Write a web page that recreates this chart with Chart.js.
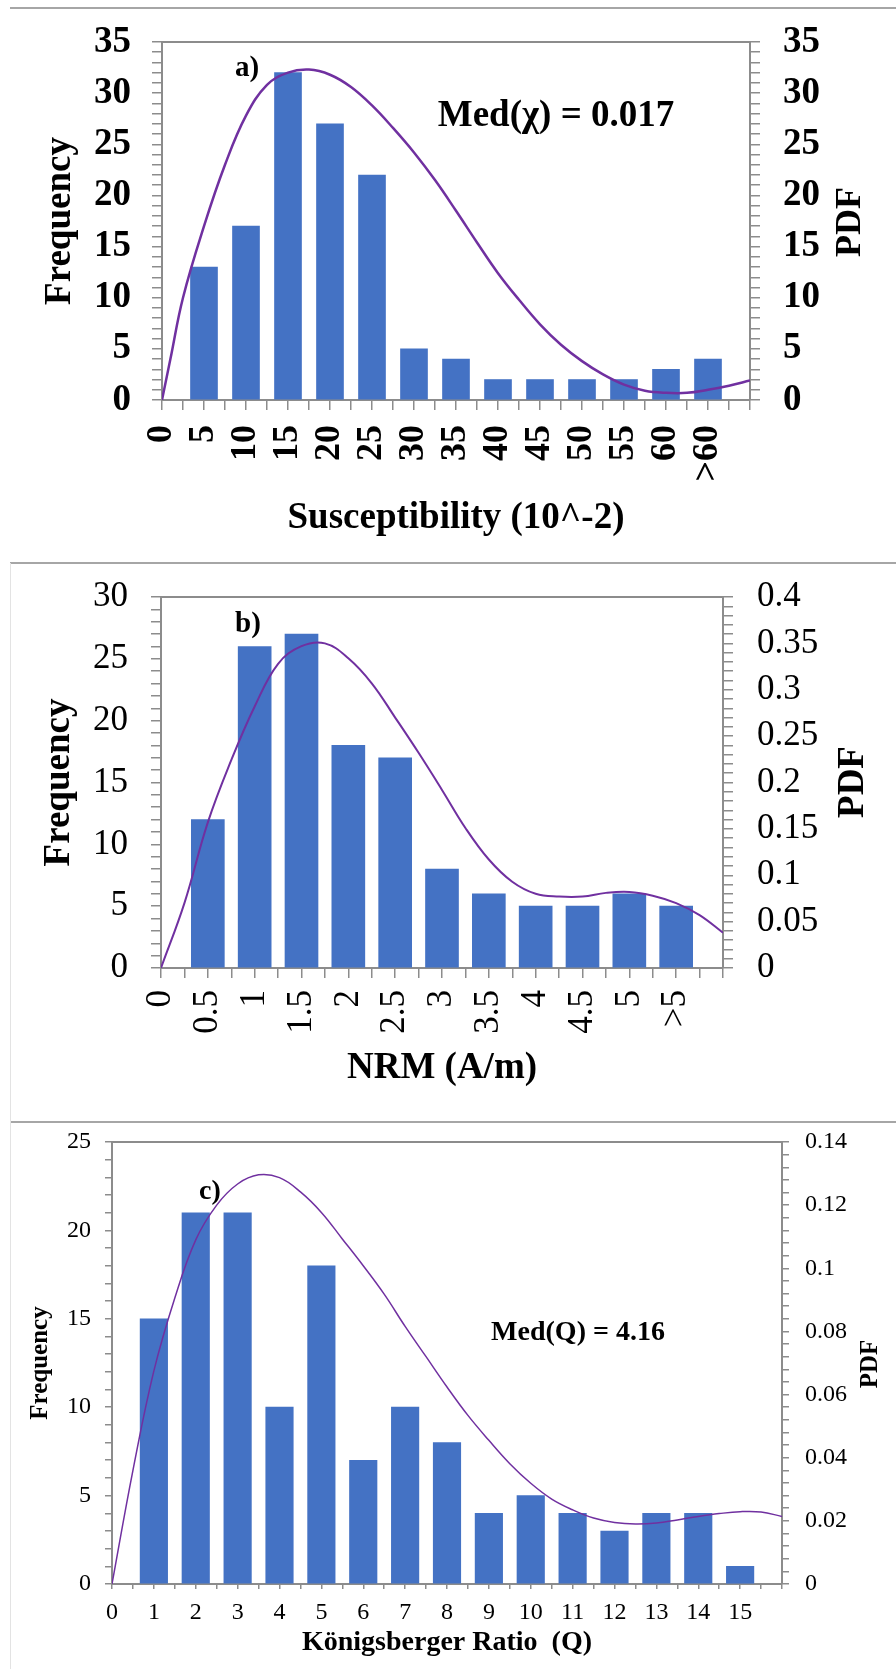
<!DOCTYPE html>
<html>
<head>
<meta charset="utf-8">
<title>Susceptibility, NRM and Q histograms</title>
<script src="https://cdn.jsdelivr.net/npm/chart.js@4.4.1/dist/chart.umd.min.js"></script>
<style>
  html, body { margin: 0; padding: 0; background: #fff; }
  body { width: 896px; height: 1669px; position: relative; overflow: hidden; }
  canvas { position: absolute; left: 0; }
  .rule { position: absolute; left: 10px; right: 0; height: 2px; background: #a6a6a6; }
  .side { position: absolute; left: 10px; width: 1px; background: #e3e3e3; }
</style>
</head>
<body>
<div class="rule" style="top:7px"></div>
<div class="rule" style="top:562px"></div>
<div class="rule" style="top:1121px"></div>
<div class="side" style="top:563px;height:1106px"></div>
<canvas id="chartA" style="top:10px" width="896" height="548"></canvas>
<canvas id="chartB" style="top:565px" width="896" height="555"></canvas>
<canvas id="chartC" style="top:1124px" width="896" height="545"></canvas>
<script>
// a) Susceptibility
const suscBins    = [5, 10, 15, 20, 25, 30, 35, 40, 45, 50, 55, 60, 65];
const suscFreq    = [13, 17, 32, 27, 22, 5, 4, 2, 2, 2, 2, 3, 4];
const suscXLabels = ["0", "5", "10", "15", "20", "25", "30", "35", "40", "45", "50", "55", "60", ">60"];
const suscYLabels = ["0", "5", "10", "15", "20", "25", "30", "35"];
const suscPdfX    = [0, 1, 2.5, 5, 7.5, 10, 12.5, 15, 17.5, 20, 22.5, 25, 27.5, 30, 32.5,
                     35, 37.5, 40, 42.5, 45, 47.5, 50, 52.5, 55, 57.5, 60, 62.5, 65, 67.5, 70];
const suscPdfY    = [0, 4, 10, 17, 23, 27.8, 30.8, 32, 32.3, 31.8, 30.6, 28.8, 26.6, 24.2, 21.5,
                     18.5, 15.4, 12.4, 9.8, 7.4, 5.4, 3.8, 2.5, 1.5, 0.9, 0.7, 0.7, 1.0, 1.4, 1.9];

// b) NRM
const nrmBins     = [0.5, 1, 1.5, 2, 2.5, 3, 3.5, 4, 4.5, 5, 5.5];
const nrmFreq     = [12, 26, 27, 18, 17, 8, 6, 5, 5, 6, 5];
const nrmXLabels  = ["0", "0.5", "1", "1.5", "2", "2.5", "3", "3.5", "4", "4.5", "5", ">5"];
const nrmYLabels  = ["0", "5", "10", "15", "20", "25", "30"];
const nrmPdfLabels = ["0", "0.05", "0.1", "0.15", "0.2", "0.25", "0.3", "0.35", "0.4"];
const nrmPdfX     = [0, 0.25, 0.5, 0.75, 1, 1.25, 1.5, 1.75, 2, 2.25, 2.5, 2.75, 3,
                     3.25, 3.5, 3.75, 4, 4.25, 4.5, 4.75, 5, 5.25, 5.5, 5.75, 6];
const nrmPdfY     = [0, 0.07, 0.157, 0.224, 0.282, 0.328, 0.347, 0.350, 0.334, 0.307, 0.270, 0.232, 0.192,
                     0.151, 0.117, 0.093, 0.080, 0.077, 0.077, 0.081, 0.082, 0.078, 0.070, 0.057, 0.038];

// c) Koenigsberger ratio
const qBins       = [1, 2, 3, 4, 5, 6, 7, 8, 9, 10, 11, 12, 13, 14, 15];
const qFreq       = [15, 21, 21, 10, 18, 7, 10, 8, 4, 5, 4, 3, 4, 4, 1];
const qXLabels    = ["0", "1", "2", "3", "4", "5", "6", "7", "8", "9", "10", "11", "12", "13", "14", "15"];
const qYLabels    = ["0", "5", "10", "15", "20", "25"];
const qPdfLabels  = ["0", "0.02", "0.04", "0.06", "0.08", "0.1", "0.12", "0.14"];
const qPdfX       = [0, 0.5, 1, 1.5, 2, 2.5, 3, 3.5, 4, 4.5, 5, 5.5, 6, 6.5, 7, 7.5, 8,
                     8.5, 9, 9.5, 10, 10.5, 11, 11.5, 12, 12.5, 13, 13.5, 14, 14.5, 15, 15.5, 16];
const qPdfY       = [0, 0.036, 0.0675, 0.0906, 0.109, 0.120, 0.1267, 0.1296, 0.1287, 0.1242, 0.1177,
                     0.1093, 0.1008, 0.0918, 0.0816, 0.072, 0.0624, 0.0534, 0.0455, 0.0381, 0.0319,
                     0.0269, 0.0235, 0.0209, 0.0195, 0.019, 0.0193, 0.0203, 0.0214, 0.0223, 0.0229,
                     0.0228, 0.0214];

const SERIF = "'Liberation Serif', 'Times New Roman', serif";
const GREY  = "#8c8c8c";
const BAR   = "#4472c4";
const CURVE = "#7030a0";

// label only where the tick falls on a labelled step, keep the tick mark otherwise
function labelAt(labels, value, step) {
  const r = value / step;
  const i = Math.round(r);
  return Math.abs(r - i) < 1e-6 && i < labels.length ? labels[i] : "";
}

// top edge of the plot box + free text (panel letter, median, PDF title)
const framePlugin = {
  id: "frame",
  afterDraw(chart, args, opts) {
    const { ctx, chartArea: a } = chart;
    ctx.save();
    ctx.strokeStyle = GREY;
    ctx.lineWidth = 2;
    ctx.beginPath();
    ctx.moveTo(a.left, a.top);
    ctx.lineTo(a.right, a.top);
    ctx.stroke();
    ctx.fillStyle = "#000";
    ctx.textAlign = "center";
    ctx.textBaseline = "middle";
    (opts.notes || []).forEach((n) => {
      ctx.save();
      ctx.font = `bold ${n.size}px ${SERIF}`;
      ctx.translate(n.x, n.y);
      if (n.rotate) ctx.rotate(-Math.PI / 2);
      ctx.fillText(n.text, 0, 0);
      ctx.restore();
    });
    ctx.restore();
  },
};

function axisFont(size, bold) {
  return { family: SERIF, size, weight: bold ? "bold" : "normal" };
}

// fixed box sizes so the plot area lands where the original has it
function fixWidth(w) {
  return (s) => { s.width = w; s.paddingTop = 0; s.paddingBottom = 0; };
}

function buildConfig(p) {
  return {
    type: "bar",
    data: {
      datasets: [
        {
          type: "line",
          data: p.pdfX.map((x, i) => ({ x, y: p.pdfY[i] })),
          yAxisID: "y2",
          borderColor: CURVE,
          borderWidth: p.curveWidth,
          pointRadius: 0,
          tension: 0.4,
          fill: false,
          order: 0,
        },
        {
          type: "bar",
          data: p.bins.map((x, i) => ({ x, y: p.freq[i] })),
          yAxisID: "y",
          backgroundColor: BAR,
          borderWidth: 0,
          barThickness: p.barWidth,
          order: 1,
        },
      ],
    },
    options: {
      responsive: false,
      animation: false,
      layout: { padding: { top: p.padTop, left: 0, right: 0, bottom: 0 } },
      plugins: {
        legend: { display: false },
        tooltip: { enabled: false },
        frame: { notes: p.notes },
      },
      scales: {
        x: {
          type: "linear",
          min: p.xMin, max: p.xMax,
          offset: false,
          grid: { offset: false, drawOnChartArea: false, tickLength: p.xTick, color: GREY, lineWidth: 1.5 },
          border: { color: GREY, width: 2 },
          ticks: {
            stepSize: p.xMinor,
            autoSkip: false,
            minRotation: p.xRotation, maxRotation: p.xRotation,
            padding: p.xPad,
            color: "#000",
            font: axisFont(p.xFont, p.boldTicks),
            callback: (v) => labelAt(p.xLabels, v, p.xMajor),
          },
          title: {
            display: true, text: p.xTitle, color: "#000",
            font: axisFont(p.xTitleFont, true),
            padding: { top: 0, bottom: p.xTitlePad },
          },
          afterFit: (s) => { s.height = p.xHeight; s.paddingLeft = 0; s.paddingRight = 0; },
        },
        y: {
          position: "left",
          min: 0, max: p.yMax,
          grid: { drawOnChartArea: false, tickLength: p.yTick, color: GREY, lineWidth: 1.5 },
          border: { color: GREY, width: 2 },
          ticks: {
            stepSize: p.yMinor,
            autoSkip: false,
            padding: p.yPad,
            color: "#000",
            font: axisFont(p.yFont, p.boldTicks),
            callback: (v) => labelAt(p.yLabels, v, p.yMajor),
          },
          title: {
            display: true, text: "Frequency", color: "#000",
            font: axisFont(p.yTitleFont, true),
            padding: { top: p.yTitlePad, bottom: 0 },
          },
          afterFit: fixWidth(p.leftWidth),
        },
        y2: {
          position: "right",
          min: 0, max: p.y2Max,
          grid: { drawOnChartArea: false, tickLength: p.yTick, color: GREY, lineWidth: 1.5 },
          border: { color: GREY, width: 2 },
          ticks: {
            stepSize: p.y2Minor,
            autoSkip: false,
            padding: p.y2Pad,
            color: "#000",
            font: axisFont(p.yFont, p.boldTicks),
            callback: (v) => labelAt(p.y2Labels, v, p.y2Major),
          },
          afterFit: fixWidth(p.rightWidth),
        },
      },
    },
    plugins: [framePlugin],
  };
}

new Chart(document.getElementById("chartA"), buildConfig({
  bins: suscBins, freq: suscFreq, pdfX: suscPdfX, pdfY: suscPdfY,
  xLabels: suscXLabels, yLabels: suscYLabels, y2Labels: suscYLabels,
  xMin: 0, xMax: 70, xMajor: 5, xMinor: 2.5,
  yMax: 35, yMajor: 5, yMinor: 1,
  y2Max: 35, y2Major: 5, y2Minor: 1,
  xTitle: "Susceptibility (10^-2)",
  boldTicks: true, xFont: 36, yFont: 37, xTitleFont: 37, yTitleFont: 37,
  xRotation: 90, xPad: 15, xTick: 10, yTick: 10, yPad: 21, y2Pad: 23,
  xTitlePad: 17, yTitlePad: 38,
  padTop: 32, leftWidth: 162, rightWidth: 146, xHeight: 158,
  barWidth: 27, curveWidth: 2.5,
  notes: [
    { text: "a)", x: 247, y: 59, size: 29 },
    { text: "Med(\u03c7) = 0.017", x: 556, y: 106, size: 37 },
    { text: "PDF", x: 851, y: 212, size: 36, rotate: true },
  ],
}));

new Chart(document.getElementById("chartB"), buildConfig({
  bins: nrmBins, freq: nrmFreq, pdfX: nrmPdfX, pdfY: nrmPdfY,
  xLabels: nrmXLabels, yLabels: nrmYLabels, y2Labels: nrmPdfLabels,
  xMin: 0, xMax: 6, xMajor: 0.5, xMinor: 0.25,
  yMax: 30, yMajor: 5, yMinor: 1,
  y2Max: 0.4, y2Major: 0.05, y2Minor: 0.01,
  xTitle: "NRM (A/m)",
  boldTicks: false, xFont: 35, yFont: 35, xTitleFont: 37, yTitleFont: 37,
  xRotation: 90, xPad: 12, xTick: 10, yTick: 10, yPad: 23, y2Pad: 24,
  xTitlePad: 29, yTitlePad: 37,
  padTop: 32, leftWidth: 161, rightWidth: 173, xHeight: 152,
  barWidth: 33, curveWidth: 2,
  notes: [
    { text: "b)", x: 248, y: 60, size: 29 },
    { text: "PDF", x: 853, y: 217, size: 37, rotate: true },
  ],
}));

new Chart(document.getElementById("chartC"), buildConfig({
  bins: qBins, freq: qFreq, pdfX: qPdfX, pdfY: qPdfY,
  xLabels: qXLabels, yLabels: qYLabels, y2Labels: qPdfLabels,
  xMin: 0, xMax: 16, xMajor: 1, xMinor: 0.5,
  yMax: 25, yMajor: 5, yMinor: 1,
  y2Max: 0.14, y2Major: 0.02, y2Minor: 0.004,
  xTitle: "K\u00f6nigsberger Ratio  (Q)",
  boldTicks: false, xFont: 24, yFont: 24, xTitleFont: 28, yTitleFont: 25,
  xRotation: 0, xPad: 9, xTick: 5, yTick: 7, yPad: 14, y2Pad: 16,
  xTitlePad: 9, yTitlePad: 26,
  padTop: 18, leftWidth: 112, rightWidth: 114, xHeight: 85,
  barWidth: 27.5, curveWidth: 1.5,
  notes: [
    { text: "c)", x: 210, y: 68, size: 28 },
    { text: "Med(Q) = 4.16", x: 578, y: 209, size: 28 },
    { text: "PDF", x: 871, y: 240, size: 25, rotate: true },
  ],
}));
</script>
</body>
</html>
